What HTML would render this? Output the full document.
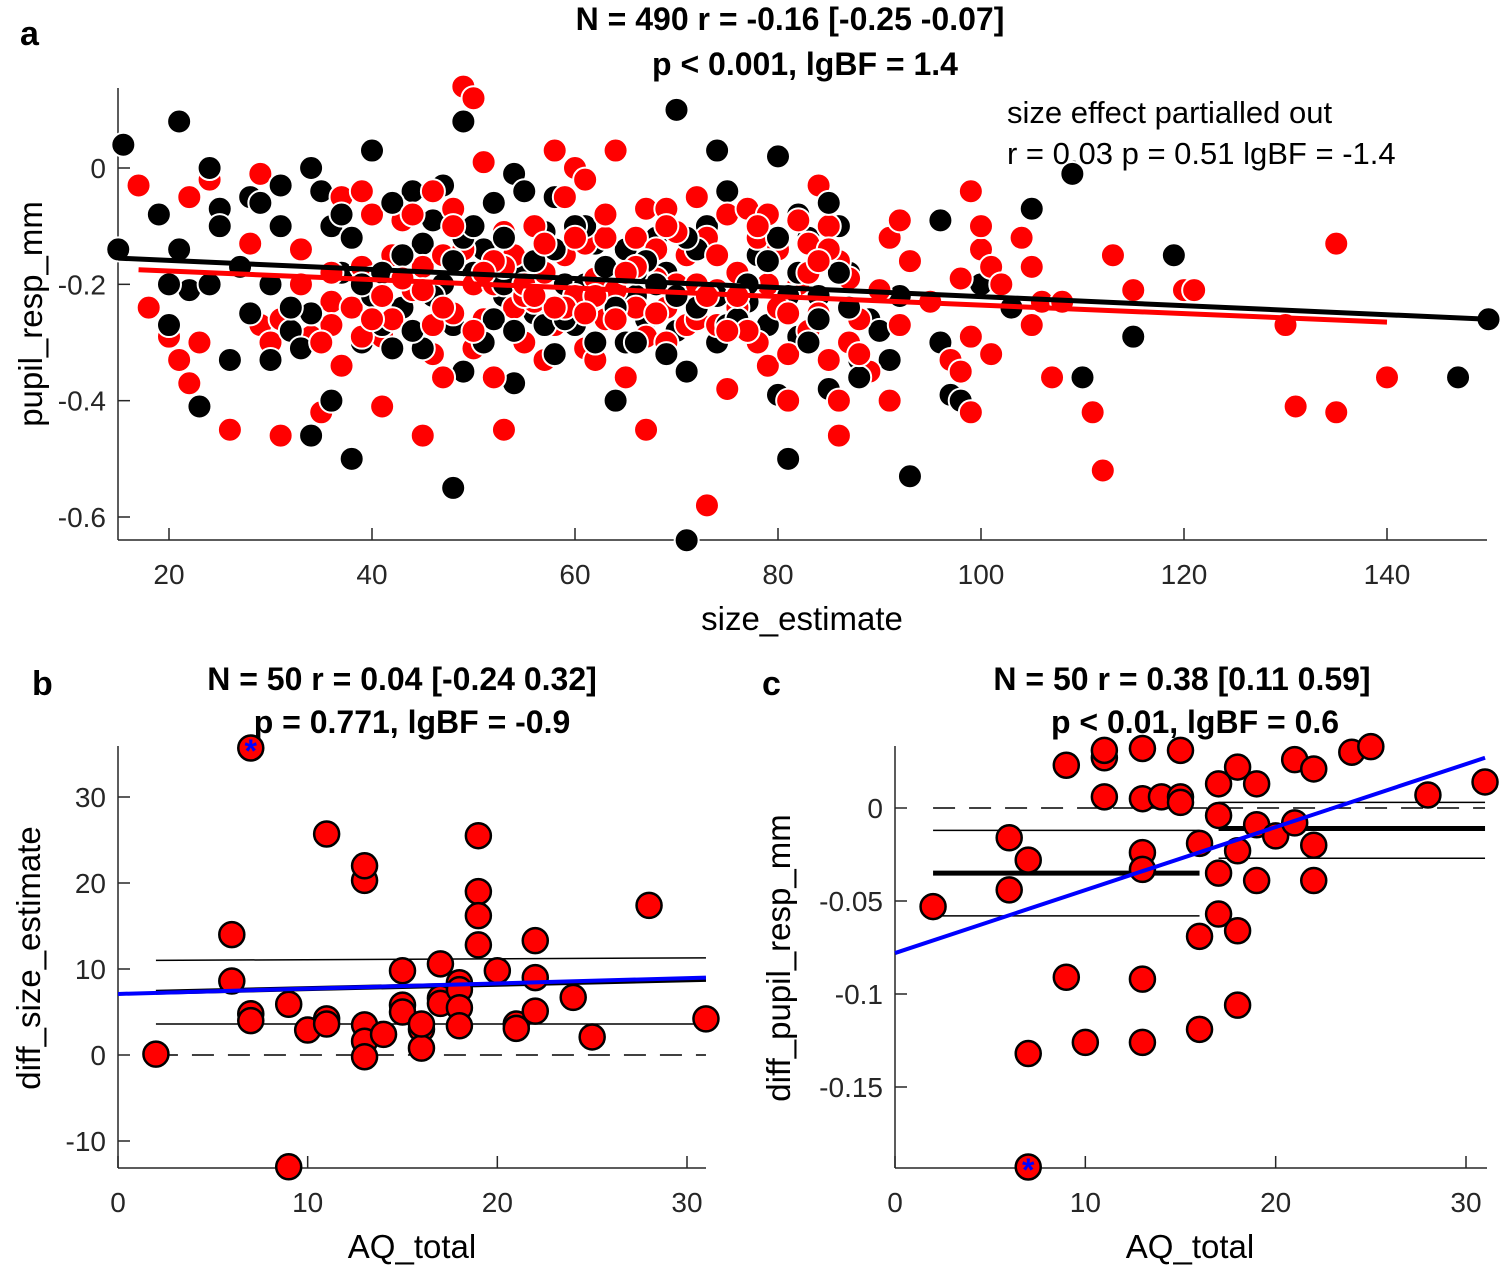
<!DOCTYPE html>
<html><head><meta charset="utf-8">
<style>
body{margin:0;background:#fff;}
svg{display:block;font-family:"Liberation Sans",Arial,sans-serif;}
.t{font-size:32px;font-weight:bold;text-anchor:middle;}
.tick{font-size:28px;}
.lab{font-size:33px;text-anchor:middle;}
.pl{font-size:34px;font-weight:bold;}
</style></head>
<body>
<svg id="s" width="1502" height="1270" viewBox="0 0 1502 1270">
<text class="pl" x="20" y="45">a</text>
<text class="t" x="790" y="30">N = 490 r = -0.16 [-0.25 -0.07]</text>
<text class="t" x="805" y="75">p &lt; 0.001, lgBF = 1.4</text>
<text x="1007" y="123" style="font-size:31px">size effect partialled out</text>
<text x="1007" y="164" style="font-size:31px">r = 0.03 p = 0.51 lgBF = -1.4</text>
<text class="lab" x="802" y="630">size_estimate</text>
<text class="lab" transform="translate(42,314) rotate(-90)">pupil_resp_mm</text>
<text class="pl" x="32" y="695">b</text>
<text class="t" x="402" y="690">N = 50 r = 0.04 [-0.24 0.32]</text>
<text class="t" x="412" y="733">p = 0.771, lgBF = -0.9</text>
<text class="lab" x="412" y="1258">AQ_total</text>
<text class="lab" transform="translate(40,958) rotate(-90)">diff_size_estimate</text>
<text class="pl" x="762" y="695">c</text>
<text class="t" x="1182" y="690">N = 50 r = 0.38 [0.11 0.59]</text>
<text class="t" x="1195" y="733">p &lt; 0.01, lgBF = 0.6</text>
<text class="lab" x="1190" y="1258">AQ_total</text>
<text class="lab" transform="translate(790,958) rotate(-90)">diff_pupil_resp_mm</text>
</svg>
<script>
// ---- panel a data ----
const aBlackX=[15,15.5,19,21,21,22,20,20,23,24,25,25,26,27,28,29,30,31,32,33,34,34,35,36,36,37,38,39,40,40,41,42,43,44,45,46,47,48,48,49,49,50,51,52,53,54,54,55,56,57,58,59,60,61,62,63,64,64,65,66,67,68,69,70,70,71,71,72,73,74,74,75,76,77,78,79,80,80,81,82,82,83,84,85,86,87,88,89,90,91,92,93,96,96,97,98,100,103,105,109,110,115,119,147,150,47,52,57,62,67,72,77,33,43,53,63,83,85,38,28,24,45,55,65,75,58,68,78,88,
31,34,37,41,44,46,49,51,53,56,59,61,64,66,69,72,74,77,79,81,84,86,30,35,42,48,54,60,66,71,76,82,87,32,39,50,58,70,80];
const aBlackY=[-0.14,0.04,-0.08,0.08,-0.14,-0.21,-0.2,-0.27,-0.41,0,-0.07,-0.1,-0.33,-0.17,-0.05,-0.06,-0.33,-0.03,-0.28,-0.31,0,-0.46,-0.04,-0.1,-0.4,-0.18,-0.5,-0.3,0.03,-0.22,-0.27,-0.31,-0.24,-0.04,-0.13,-0.09,-0.03,-0.27,-0.55,-0.35,0.08,-0.18,-0.14,-0.06,-0.22,-0.37,-0.01,-0.18,-0.25,-0.11,-0.05,-0.2,-0.27,-0.2,-0.13,-0.25,0.03,-0.4,-0.14,-0.22,-0.26,-0.12,-0.18,0.1,-0.28,-0.64,-0.35,-0.2,-0.1,-0.3,0.03,-0.04,-0.18,-0.23,-0.15,-0.27,-0.39,0.02,-0.5,-0.29,-0.08,-0.12,-0.22,-0.38,-0.1,-0.18,-0.33,-0.26,-0.28,-0.33,-0.22,-0.53,-0.3,-0.09,-0.39,-0.4,-0.2,-0.24,-0.07,-0.01,-0.36,-0.29,-0.15,-0.36,-0.26,-0.2,-0.26,-0.27,-0.3,-0.16,-0.24,-0.2,-0.14,-0.15,-0.12,-0.17,-0.3,-0.06,-0.12,-0.25,-0.2,-0.31,-0.04,-0.3,-0.27,-0.14,-0.2,-0.1,-0.36,
-0.1,-0.25,-0.08,-0.18,-0.28,-0.22,-0.12,-0.3,-0.2,-0.16,-0.26,-0.1,-0.24,-0.18,-0.32,-0.14,-0.22,-0.28,-0.16,-0.22,-0.26,-0.18,-0.2,-0.3,-0.06,-0.16,-0.28,-0.1,-0.3,-0.12,-0.26,-0.18,-0.24,-0.24,-0.2,-0.1,-0.32,-0.22,-0.12];
const aRedX=[17,18,20,21,22,22,23,24,26,28,29,29,30,31,31,33,34,34,35,36,36,37,37,38,38,39,39,40,40,41,41,42,42,43,44,45,45,46,46,47,47,48,48,49,49,50,50,50,51,51,52,52,53,53,54,54,55,56,56,57,57,58,58,59,59,60,60,61,61,61,62,62,63,63,64,64,65,65,66,66,67,67,67,68,68,69,69,69,70,71,71,72,72,73,73,74,74,75,75,76,76,77,78,78,79,79,80,81,81,82,82,83,83,84,84,85,85,86,86,86,87,87,88,89,90,91,91,92,93,95,97,98,98,99,99,99,100,100,101,101,102,104,105,105,106,107,108,111,112,113,115,120,121,130,131,135,135,140,44,39,59,79,92,77,55,46,53,57,
33,36,41,43,47,50,52,55,58,60,62,64,66,68,70,72,74,76,78,80,83,85,35,40,45,48,51,56,61,63,65,69,73,75,81,84,88];
const aRedY=[-0.03,-0.24,-0.29,-0.33,-0.05,-0.37,-0.3,-0.02,-0.45,-0.13,-0.01,-0.27,-0.3,-0.46,-0.26,-0.2,0,-0.29,-0.42,-0.23,-0.27,-0.34,-0.05,-0.12,-0.24,-0.17,-0.04,-0.19,-0.08,-0.29,-0.41,-0.15,-0.26,-0.09,-0.21,-0.17,-0.46,-0.32,-0.04,-0.36,-0.15,-0.25,-0.07,-0.14,0.14,0.12,-0.31,-0.2,-0.26,0.01,-0.36,-0.2,-0.11,-0.45,-0.24,-0.15,-0.3,-0.1,-0.23,-0.18,-0.33,0.03,-0.27,-0.15,-0.05,0,-0.22,-0.31,-0.02,-0.13,-0.19,-0.33,-0.26,-0.12,0.03,-0.21,-0.36,-0.3,-0.12,-0.24,-0.07,-0.45,-0.29,-0.14,-0.19,-0.07,-0.3,-0.24,-0.2,-0.27,-0.15,-0.05,-0.26,-0.12,-0.58,-0.21,-0.27,-0.38,-0.08,-0.18,-0.24,-0.07,-0.3,-0.12,-0.34,-0.2,-0.14,-0.4,-0.32,-0.09,-0.2,-0.13,-0.28,-0.03,-0.25,-0.33,-0.1,-0.16,-0.46,-0.4,-0.3,-0.19,-0.26,-0.35,-0.21,-0.4,-0.12,-0.09,-0.16,-0.23,-0.33,-0.19,-0.35,-0.04,-0.29,-0.42,-0.14,-0.1,-0.17,-0.32,-0.2,-0.12,-0.17,-0.27,-0.23,-0.36,-0.23,-0.42,-0.52,-0.15,-0.21,-0.21,-0.21,-0.27,-0.41,-0.13,-0.42,-0.36,-0.08,-0.29,-0.24,-0.08,-0.27,-0.28,-0.22,-0.27,-0.17,-0.13,
-0.14,-0.18,-0.22,-0.19,-0.24,-0.28,-0.16,-0.2,-0.24,-0.12,-0.22,-0.26,-0.17,-0.25,-0.11,-0.2,-0.15,-0.22,-0.1,-0.24,-0.18,-0.14,-0.3,-0.26,-0.21,-0.1,-0.18,-0.22,-0.25,-0.08,-0.18,-0.1,-0.22,-0.28,-0.25,-0.16,-0.32];
const aXTicks=[20,40,60,80,100,120,140];
const aYTicks=[0,-0.2,-0.4,-0.6];
const aFitBlack=[[15,-0.155],[150,-0.26]];
const aFitRed=[[17,-0.175],[140,-0.265]];
// ---- panel b data ----
const bX=[2,7,6,6,7,7,9,9,10,11,11,11,13,13,13,13,13,14,15,15,15,16,16,16,17,17,17,18,18,18,18,19,19,19,19,20,21,21,22,22,22,24,25,28,31];
const bY=[0.1,35.7,14,8.6,4.8,4,5.9,-13,2.9,25.7,4.2,3.6,20.3,22,3.5,1.6,-0.2,2.4,9.8,5.8,5,3,0.8,3.6,10.6,6.6,6,8.4,7.6,5.5,3.4,25.5,19,16.2,12.8,9.8,3.6,3.1,13.3,9,5.1,6.7,2.1,17.4,4.2];
const bStar=[7,35.7];
const bXTicks=[0,10,20,30];
const bYTicks=[30,20,10,0,-10];
const bMean=[[2,7.3],[31,8.8]];
const bCI=[[2,11.0],[31,11.3],[2,3.6],[31,3.6]];
const bFit=[[0,7.1],[31,9.0]];
// ---- panel c data ----
const cX=[2,6,6,7,7,7,9,9,10,11,11,11,13,13,13,13,13,13,14,15,15,15,16,16,16,17,17,17,17,18,18,18,18,19,19,19,20,21,21,22,22,22,24,25,28,31];
const cY=[-0.053,-0.016,-0.044,-0.028,-0.193,-0.132,0.023,-0.091,-0.126,0.027,0.031,0.006,0.032,0.005,-0.024,-0.033,-0.092,-0.126,0.006,0.031,0.006,0.003,-0.019,-0.069,-0.119,0.013,-0.004,-0.035,-0.057,0.022,-0.023,-0.066,-0.106,0.013,-0.009,-0.039,-0.015,0.026,-0.008,0.021,-0.020,-0.039,0.030,0.033,0.007,0.014];
const cStar=[7,-0.193];
const cXTicks=[0,10,20,30];
const cYTicks=[0,-0.05,-0.1,-0.15];
const cYTickLabels=["0","-0.05","-0.1","-0.15"];
const cGroupLo=[2,16,-0.035,-0.012,-0.058];
const cGroupHi=[17,31,-0.011,0.003,-0.027];
const cFit=[[0,-0.078],[31,0.027]];

const NS="http://www.w3.org/2000/svg";
const svg=document.getElementById('s');
function mk(tag,attrs){const e=document.createElementNS(NS,tag);for(const k in attrs)e.setAttribute(k,attrs[k]);svg.appendChild(e);return e;}
function lin(d0,d1,p0,p1){return v=>p0+(v-d0)*(p1-p0)/(d1-d0);}

const ax=lin(20,140,169,1387), ay=lin(0,-0.6,168,517);
const bx=lin(0,30,118,687), by=lin(30,-10,797,1141);
const cx=lin(0,30,895,1466), cy=lin(0,-0.15,808,1087);

function axes(x0,x1,y0,y1,xs,ys,xt,yt,xl,yl,pfx){
  let e=mk('line',{x1:x0,y1:y1,x2:x0,y2:y0,stroke:'#262626','stroke-width':1.5});
  
  
  e=mk('line',{x1:x0,y1:y1,x2:x1,y2:y1,stroke:'#262626','stroke-width':1.5});
  
  
  xt.forEach((v,i)=>{const X=xs(v);
    mk('line',{x1:X,y1:y1,x2:X,y2:y1-12,stroke:'#262626','stroke-width':1.5});
    const t=mk('text',{x:X,y:y1+44,class:'tick','text-anchor':'middle',fill:'#262626'});t.textContent=xl?xl[i]:String(v);
    
    });
  yt.forEach((v,i)=>{const Y=ys(v);
    mk('line',{x1:x0,y1:Y,x2:x0+12,y2:Y,stroke:'#262626','stroke-width':1.5});
    const t=mk('text',{x:x0-12,y:Y+10,class:'tick','text-anchor':'end',fill:'#262626'});t.textContent=yl?yl[i]:String(v);
    
    });
}
axes(118,1487,88,540,ax,ay,aXTicks,aYTicks,null,["0","-0.2","-0.4","-0.6"],'panel-a');
axes(118,706,746,1168,bx,by,bXTicks,bYTicks,null,null,'panel-b');
axes(895,1487,746,1168,cx,cy,cXTicks,cYTicks,null,cYTickLabels,'panel-c');

const n=Math.max(aBlackX.length,aRedX.length);
for(let i=0;i<n;i++){
  if(i<aBlackX.length){const c=mk('circle',{cx:ax(aBlackX[i]),cy:ay(aBlackY[i]),r:12,fill:'#000',stroke:'#fff','stroke-width':2});
    
    }
  if(i<aRedX.length){const c=mk('circle',{cx:ax(aRedX[i]),cy:ay(aRedY[i]),r:12,fill:'#f00',stroke:'#fff','stroke-width':2});
    
    }
}
let L=mk('line',{x1:ax(aFitBlack[0][0]),y1:ay(aFitBlack[0][1]),x2:ax(aFitBlack[1][0]),y2:ay(aFitBlack[1][1]),stroke:'#000','stroke-width':5});


L=mk('line',{x1:ax(aFitRed[0][0]),y1:ay(aFitRed[0][1]),x2:ax(aFitRed[1][0]),y2:ay(aFitRed[1][1]),stroke:'#f00','stroke-width':5});



L=mk('line',{x1:bx(2),y1:by(0),x2:bx(31),y2:by(0),stroke:'#000','stroke-width':1.5,'stroke-dasharray':'22,14'});


for(let k=0;k<bCI.length;k+=2){L=mk('line',{x1:bx(bCI[k][0]),y1:by(bCI[k][1]),x2:bx(bCI[k+1][0]),y2:by(bCI[k+1][1]),stroke:'#000','stroke-width':1.5});
  
  }
L=mk('line',{x1:bx(bMean[0][0]),y1:by(bMean[0][1]),x2:bx(bMean[1][0]),y2:by(bMean[1][1]),stroke:'#000','stroke-width':5});


for(let i=0;i<bX.length;i++){const c=mk('circle',{cx:bx(bX[i]),cy:by(bY[i]),r:12.5,fill:'#f00',stroke:'#000','stroke-width':2.5});
  
  }
L=mk('line',{x1:bx(bFit[0][0]),y1:by(bFit[0][1]),x2:bx(bFit[1][0]),y2:by(bFit[1][1]),stroke:'#0000ff','stroke-width':4});


let st=mk('text',{x:bx(bStar[0]),y:by(bStar[1])+14,'text-anchor':'middle',fill:'#0000ff','font-size':'32px','font-weight':'bold'});st.textContent='*';



L=mk('line',{x1:cx(2),y1:cy(0),x2:cx(31),y2:cy(0),stroke:'#000','stroke-width':1.5,'stroke-dasharray':'22,14'});


[cGroupLo,cGroupHi].forEach(g=>{
  [g[3],g[4]].forEach(v=>{L=mk('line',{x1:cx(g[0]),y1:cy(v),x2:cx(g[1]),y2:cy(v),stroke:'#000','stroke-width':1.5});
    
    });
  L=mk('line',{x1:cx(g[0]),y1:cy(g[2]),x2:cx(g[1]),y2:cy(g[2]),stroke:'#000','stroke-width':5});
  
  
});
for(let i=0;i<cX.length;i++){const c=mk('circle',{cx:cx(cX[i]),cy:cy(cY[i]),r:12.5,fill:'#f00',stroke:'#000','stroke-width':2.5});
  
  }
L=mk('line',{x1:cx(cFit[0][0]),y1:cy(cFit[0][1]),x2:cx(cFit[1][0]),y2:cy(cFit[1][1]),stroke:'#0000ff','stroke-width':4});


st=mk('text',{x:cx(cStar[0]),y:cy(cStar[1])+14,'text-anchor':'middle',fill:'#0000ff','font-size':'32px','font-weight':'bold'});st.textContent='*';


</script>
</body></html>
